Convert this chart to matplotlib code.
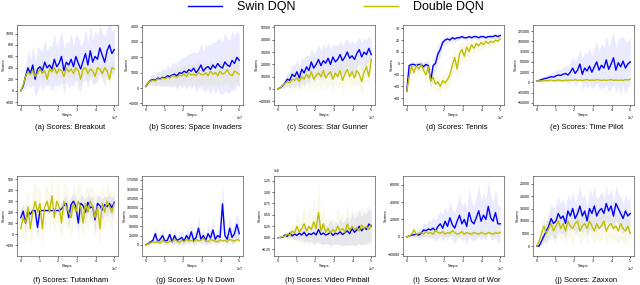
import numpy as np
import matplotlib
matplotlib.use("Agg")
import matplotlib.pyplot as plt

plt.rcParams['font.family'] = ['Liberation Sans', 'DejaVu Sans']

steps = np.linspace(0, 5e7, 40)

# (a) Breakout
breakout_swin = [0, 80, 250, 400, 300, 450, 200, 380, 420, 350, 500, 400, 450, 380, 550, 420, 480, 600, 350, 500,
                 450, 550, 420, 600, 480, 380, 520, 650, 450, 700, 500, 600, 550, 750, 620, 500, 700, 800, 650, 720]
breakout_swin_sd = [0, 60, 200, 300, 250, 350, 300, 400, 300, 350, 400, 300, 350, 400, 450, 350, 400, 450, 400, 350,
                    400, 450, 350, 400, 450, 400, 350, 450, 400, 450, 400, 450, 400, 450, 400, 450, 400, 450, 400, 400]
breakout_ddqn = [0, 100, 250, 330, 280, 350, 250, 300, 380, 300, 350, 200, 380, 330, 400, 300, 380, 350, 250, 400,
                 330, 380, 300, 400, 350, 200, 380, 400, 300, 380, 350, 250, 400, 380, 300, 400, 350, 200, 400, 380]
breakout_ddqn_sd = [0, 50, 100, 120, 150, 120, 150, 100, 130, 150, 120, 150, 100, 130, 120, 150, 100, 120, 150, 100,
                    130, 120, 150, 100, 120, 150, 100, 130, 150, 120, 100, 150, 120, 100, 150, 120, 100, 150, 120, 100]

# (b) Space Invaders
invaders_swin = [100, 350, 500, 550, 500, 650, 600, 700, 650, 800, 750, 850, 900, 800, 1000, 950, 1100, 1000, 1200, 1100,
                 1300, 1000, 1200, 1500, 1100, 1300, 1400, 1200, 1500, 1300, 1600, 1400, 1300, 1700, 1500, 1400, 1800, 1600, 2000, 1800]
invaders_swin_sd = [50, 150, 300, 400, 350, 500, 450, 600, 500, 700, 600, 800, 700, 900, 800, 1000, 900, 1100, 1000, 1200,
                    1100, 1300, 1200, 1400, 1300, 1500, 1400, 1600, 1500, 1700, 1600, 1800, 1700, 1900, 1800, 1700, 1900, 1800, 1800, 1700]
invaders_ddqn = [100, 350, 450, 500, 450, 600, 550, 650, 600, 700, 650, 800, 750, 700, 850, 800, 900, 750, 1000, 850,
                 900, 800, 1000, 900, 850, 1000, 800, 1100, 900, 1000, 800, 1100, 900, 1000, 1200, 900, 800, 1100, 1000, 900]
invaders_ddqn_sd = [50, 150, 250, 300, 350, 400, 350, 450, 400, 500, 450, 550, 500, 600, 550, 650, 600, 700, 650, 700,
                    650, 700, 750, 700, 650, 750, 700, 800, 750, 700, 800, 750, 800, 700, 800, 750, 800, 750, 700, 800]

# (c) Star Gunner
gunner_swin = [0, 1000, 2500, 5000, 8000, 7000, 12000, 10000, 14000, 9000, 16000, 13000, 18000, 15000, 22000, 17000, 20000, 24000, 19000, 23000,
               21000, 25000, 20000, 26000, 22000, 24000, 28000, 23000, 26000, 30000, 25000, 27000, 24000, 29000, 32000, 26000, 30000, 28000, 33000, 28000]
gunner_swin_sd = [0, 1000, 2000, 4000, 6000, 7000, 8000, 9000, 10000, 9000, 10000, 11000, 10000, 12000, 11000, 12000, 11000, 13000, 12000, 13000,
                  12000, 13000, 12000, 11000, 13000, 12000, 11000, 12000, 13000, 11000, 12000, 13000, 12000, 11000, 10000, 12000, 11000, 12000, 10000, 11000]
gunner_ddqn = [0, 1000, 3000, 4500, 6000, 5000, 8000, 7000, 9000, 6000, 10000, 8000, 12000, 9000, 14000, 8000, 11000, 13000, 10000, 15000,
               9000, 12000, 14000, 8000, 13000, 10000, 15000, 7000, 12000, 16000, 10000, 14000, 9000, 15000, 12000, 6000, 14000, 18000, 10000, 24000]
gunner_ddqn_sd = [0, 800, 2000, 3000, 4000, 5000, 6000, 7000, 8000, 7000, 8000, 9000, 8000, 10000, 9000, 10000, 9000, 10000, 11000, 10000,
                  9000, 10000, 11000, 10000, 9000, 10000, 11000, 10000, 9000, 10000, 11000, 10000, 9000, 10000, 11000, 10000, 9000, 10000, 9000, 8000]

# (d) Tennis
tennis_swin = [-24, -2, -1, -1, -2, -1, -1, -3, -1, -2, -15, -2, 0, 8, 12, 18, 20, 21, 20, 22,
               21, 22, 22, 23, 22, 22, 23, 22, 23, 23, 22, 23, 23, 22, 23, 23, 23, 24, 23, 24]
tennis_swin_sd = [4, 3, 2, 2, 3, 2, 3, 4, 3, 5, 8, 6, 7, 8, 6, 4, 3, 3, 3, 2,
                  2, 2, 2, 2, 2, 2, 2, 2, 2, 2, 2, 2, 2, 2, 2, 2, 2, 2, 2, 2]
tennis_ddqn = [-24, -12, -2, -8, -2, -5, -1, -6, -10, -3, -15, -12, -18, -16, -20, -15, -17, -14, -10, -2,
               5, -5, 8, 12, 6, 14, 10, 16, 13, 17, 15, 18, 16, 19, 17, 19, 18, 20, 19, 21]
tennis_ddqn_sd = [5, 6, 5, 6, 5, 6, 5, 6, 7, 6, 7, 6, 7, 6, 7, 6, 7, 8, 9, 10,
                  9, 10, 9, 8, 9, 7, 8, 6, 7, 5, 6, 5, 5, 4, 5, 4, 4, 3, 4, 3]

# (e) Time Pilot
pilot_swin = [3000, 5000, 7000, 9000, 10000, 12000, 14000, 13000, 16000, 18000, 17000, 20000, 22000, 18000, 25000, 35000, 22000, 30000, 45000, 20000,
              35000, 28000, 40000, 25000, 38000, 50000, 30000, 42000, 35000, 55000, 32000, 45000, 60000, 30000, 48000, 38000, 52000, 35000, 45000, 50000]
pilot_swin_sd = [1000, 3000, 5000, 6000, 8000, 9000, 10000, 12000, 14000, 15000, 16000, 18000, 20000, 22000, 25000, 28000, 30000, 32000, 35000, 38000,
                 40000, 42000, 45000, 40000, 48000, 50000, 45000, 55000, 50000, 60000, 55000, 60000, 65000, 55000, 60000, 70000, 60000, 65000, 55000, 60000]
pilot_ddqn = [3000, 4000, 3000, 5000, 4000, 5000, 6000, 4000, 5000, 6000, 5000, 4000, 6000, 5000, 6000, 5000, 7000, 5000, 6000, 5000,
              6000, 7000, 5000, 6000, 5000, 7000, 6000, 5000, 6000, 5000, 6000, 7000, 5000, 6000, 5000, 6000, 5000, 7000, 6000, 8000]
pilot_ddqn_sd = [1000, 2000, 2000, 3000, 2000, 3000, 2000, 3000, 2000, 3000, 2000, 3000, 2000, 3000, 2000, 3000, 2000, 3000, 2000, 3000,
                 2000, 3000, 2000, 3000, 2000, 3000, 2000, 3000, 2000, 3000, 2000, 3000, 2000, 3000, 2000, 3000, 2000, 3000, 2000, 3000]

# (f) Tutankham
tut_swin = [150, 210, 100, 215, 180, 215, 215, 60, 215, 215, 215, 215, 215, 215, 215, 215, 215, 230, 260, 280,
            150, 270, 300, 250, 100, 280, 260, 200, 290, 240, 250, 130, 280, 260, 220, 270, 250, 280, 240, 290]
tut_swin_sd = [80, 60, 90, 20, 60, 10, 10, 120, 10, 10, 10, 10, 10, 10, 10, 10, 20, 60, 80, 70,
               100, 80, 70, 90, 120, 80, 90, 100, 80, 90, 100, 120, 80, 90, 100, 80, 90, 80, 90, 80]
tut_ddqn = [50, 150, 100, 250, 50, 200, 300, 200, 280, 50, 250, 300, 200, 350, 150, 300, 250, 100, 300, 250,
            200, 150, 280, 200, 300, 250, 100, 280, 200, 300, 250, 150, 250, 50, 280, 200, 300, 250, 200, 280]
tut_ddqn_sd = [100, 150, 200, 180, 150, 200, 180, 200, 150, 180, 200, 150, 180, 200, 150, 180, 200, 150, 180, 200,
               150, 180, 200, 150, 180, 200, 150, 180, 200, 150, 180, 200, 150, 180, 200, 150, 180, 150, 180, 150]

# (g) Up N Down
updown_swin = [0, 3000, 8000, 12000, 30000, 8000, 15000, 25000, 10000, 12000, 28000, 8000, 25000, 12000, 15000, 20000, 10000, 25000, 15000, 35000,
               12000, 20000, 45000, 15000, 25000, 12000, 30000, 18000, 40000, 15000, 25000, 20000, 110000, 25000, 15000, 45000, 20000, 30000, 55000, 30000]
updown_swin_sd = [0, 2000, 5000, 8000, 20000, 8000, 12000, 20000, 10000, 12000, 20000, 10000, 20000, 12000, 15000, 18000, 12000, 20000, 15000, 25000,
                  15000, 18000, 30000, 15000, 20000, 15000, 25000, 18000, 30000, 15000, 20000, 18000, 60000, 20000, 15000, 30000, 20000, 25000, 35000, 25000]
updown_ddqn = [0, 2000, 5000, 8000, 6000, 10000, 5000, 12000, 8000, 6000, 10000, 8000, 15000, 10000, 6000, 12000, 8000, 15000, 10000, 12000,
               8000, 15000, 10000, 12000, 18000, 10000, 8000, 15000, 12000, 10000, 8000, 14000, 10000, 12000, 8000, 15000, 12000, 10000, 14000, 12000]
updown_ddqn_sd = [0, 2000, 4000, 6000, 5000, 7000, 5000, 8000, 6000, 5000, 7000, 6000, 9000, 7000, 5000, 8000, 6000, 9000, 7000, 8000,
                  6000, 9000, 7000, 8000, 10000, 7000, 6000, 9000, 8000, 7000, 6000, 9000, 7000, 8000, 6000, 9000, 8000, 7000, 9000, 8000]

# (h) Video Pinball
pinball_swin = [0, 5000, 10000, 60000, 30000, 100000, 40000, 80000, 50000, 100000, 60000, 120000, 40000, 90000, 70000, 110000, 60000, 180000, 70000, 100000,
                60000, 80000, 120000, 50000, 100000, 80000, 130000, 70000, 110000, 150000, 90000, 200000, 120000, 170000, 250000, 150000, 220000, 180000, 300000, 250000]
pinball_swin_sd = [0, 5000, 10000, 50000, 40000, 100000, 60000, 120000, 80000, 150000, 100000, 200000, 120000, 180000, 150000, 250000, 150000, 300000, 200000, 250000,
                   180000, 220000, 300000, 200000, 250000, 220000, 300000, 250000, 280000, 320000, 250000, 350000, 300000, 320000, 380000, 300000, 350000, 320000, 400000, 350000]
pinball_ddqn = [0, 5000, 20000, 40000, 80000, 50000, 150000, 100000, 250000, 120000, 200000, 300000, 150000, 250000, 180000, 350000, 200000, 550000, 150000, 300000,
                120000, 200000, 100000, 180000, 120000, 250000, 150000, 200000, 120000, 300000, 150000, 250000, 180000, 220000, 150000, 280000, 200000, 250000, 180000, 280000]
pinball_ddqn_sd = [0, 5000, 20000, 50000, 100000, 80000, 200000, 150000, 350000, 200000, 300000, 450000, 250000, 400000, 300000, 500000, 350000, 650000, 300000, 450000,
                   250000, 350000, 250000, 300000, 250000, 400000, 300000, 350000, 250000, 450000, 300000, 400000, 350000, 400000, 300000, 450000, 350000, 400000, 350000, 400000]

# (i) Wizard of Wor
wizard_swin = [0, 1000, 2000, 2500, 3000, 2000, 4000, 8000, 7000, 9000, 8000, 10000, 7000, 12000, 15000, 10000, 18000, 12000, 22000, 14000,
               10000, 18000, 25000, 15000, 20000, 12000, 28000, 18000, 15000, 22000, 30000, 18000, 25000, 20000, 35000, 22000, 18000, 28000, 15000, 15000]
wizard_swin_sd = [0, 1000, 2000, 3000, 4000, 5000, 6000, 8000, 8000, 10000, 10000, 12000, 12000, 14000, 15000, 15000, 18000, 16000, 20000, 18000,
                  18000, 20000, 25000, 20000, 22000, 20000, 28000, 22000, 20000, 24000, 30000, 22000, 26000, 24000, 30000, 25000, 22000, 28000, 22000, 20000]
wizard_ddqn = [0, 1000, 3000, 8000, 3000, 4000, 5000, 3000, 6000, 4000, 5000, 3000, 8000, 5000, 4000, 6000, 3000, 5000, 4000, 7000,
               5000, 3000, 4000, 6000, 3000, 5000, 4000, 3000, 5000, 4000, 3000, 5000, 4000, 3000, 5000, 4000, 3000, 5000, 4000, 5000]
wizard_ddqn_sd = [0, 1000, 3000, 6000, 3000, 4000, 4000, 3000, 5000, 4000, 4000, 3000, 5000, 4000, 3000, 4000, 3000, 4000, 3000, 5000,
                  4000, 3000, 4000, 5000, 3000, 4000, 3000, 3000, 4000, 3000, 3000, 4000, 3000, 3000, 4000, 3000, 3000, 4000, 3000, 4000]

# (j) Zaxxon
zaxxon_swin = [0, 0, 2000, 4000, 6000, 8000, 11000, 9000, 10000, 13000, 11000, 12000, 9000, 14000, 12000, 15000, 11000, 13000, 16000, 12000,
               14000, 10000, 15000, 13000, 16000, 12000, 14000, 15000, 13000, 17000, 14000, 16000, 12000, 17000, 15000, 13000, 11000, 14000, 12000, 13000]
zaxxon_swin_sd = [0, 500, 2000, 3000, 4000, 5000, 6000, 6000, 7000, 7000, 6000, 7000, 6000, 7000, 6000, 7000, 6000, 7000, 8000, 7000,
                  7000, 6000, 8000, 7000, 8000, 7000, 6000, 7000, 6000, 7000, 6000, 7000, 6000, 7000, 6000, 7000, 6000, 7000, 6000, 7000]
zaxxon_ddqn = [0, 2000, 5000, 8000, 5000, 7000, 9000, 6000, 8000, 10000, 7000, 9000, 6000, 10000, 8000, 7000, 9000, 10000, 6000, 8000,
               9000, 7000, 10000, 8000, 6000, 9000, 7000, 8000, 10000, 6000, 8000, 9000, 7000, 8000, 6000, 9000, 7000, 6000, 8000, 5000]
zaxxon_ddqn_sd = [0, 2000, 4000, 5000, 5000, 5000, 6000, 5000, 6000, 6000, 5000, 6000, 5000, 6000, 5000, 6000, 5000, 6000, 5000, 6000,
                  5000, 6000, 5000, 6000, 5000, 6000, 5000, 6000, 5000, 6000, 5000, 6000, 5000, 6000, 5000, 6000, 5000, 6000, 5000, 5000]

captions = ["(a) Scores: Breakout", "(b) Scores: Space Invaders", "(c) Scores: Star Gunner",
            "(d) Scores: Tennis", "(e) Scores: Time Pilot", "(f) Scores: Tutankham",
            "(g) Scores: Up N Down", "(h) Scores: Video Pinball", "(i)  Scores: Wizard of Wor",
            "(j) Scores: Zaxxon"]

panels = [
    (breakout_swin, breakout_swin_sd, breakout_ddqn, breakout_ddqn_sd, (-250, 1150), np.arange(-200, 1001, 200)),
    (invaders_swin, invaders_swin_sd, invaders_ddqn, invaders_ddqn_sd, (-1100, 4100), np.arange(-1000, 4001, 1000)),
    (gunner_swin, gunner_swin_sd, gunner_ddqn, gunner_ddqn_sd, (-13000, 52000), np.arange(-10000, 50001, 10000)),
    (tennis_swin, tennis_swin_sd, tennis_ddqn, tennis_ddqn_sd, (-36, 33), np.arange(-30, 31, 10)),
    (pilot_swin, pilot_swin_sd, pilot_ddqn, pilot_ddqn_sd, (-55000, 140000), np.arange(-50000, 125001, 25000)),
    (tut_swin, tut_swin_sd, tut_ddqn, tut_ddqn_sd, (-200, 530), np.arange(-100, 501, 100)),
    (updown_swin, updown_swin_sd, updown_ddqn, updown_ddqn_sd, (-30000, 185000), np.arange(0, 175001, 25000)),
    (pinball_swin, pinball_swin_sd, pinball_ddqn, pinball_ddqn_sd, (-400000, 1350000), np.arange(-250000, 1250001, 250000)),
    (wizard_swin, wizard_swin_sd, wizard_ddqn, wizard_ddqn_sd, (-22000, 70000), np.arange(-20000, 60001, 20000)),
    (zaxxon_swin, zaxxon_swin_sd, zaxxon_ddqn, zaxxon_ddqn_sd, (-4000, 28000), np.arange(0, 25001, 5000)),
]

W, H = 640, 285
fig = plt.figure(figsize=(W / 100, H / 100), dpi=100)

lefts = [17, 142, 274, 403, 533]
tops = [25, 176]
aw, ah = 101, 80
caption_y = [127, 280]

blue = '#0000ff'
yellow = '#bfbf00'

for i, (sw, sw_sd, dd, dd_sd, ylim, yt) in enumerate(panels):
    r, c = divmod(i, 5)
    ax = fig.add_axes([lefts[c] / W, 1 - (tops[r] + ah) / H, aw / W, ah / H])
    sw = np.array(sw, float); sw_sd = np.array(sw_sd, float)
    dd = np.array(dd, float); dd_sd = np.array(dd_sd, float)
    ax.fill_between(steps, sw - sw_sd, sw + sw_sd, color=blue, alpha=0.08, lw=0)
    ax.fill_between(steps, dd - dd_sd, dd + dd_sd, color=yellow, alpha=0.08, lw=0)
    l1, = ax.plot(steps, sw, color=blue, lw=1.0)
    l2, = ax.plot(steps, dd, color=yellow, lw=1.0)
    ax.set_ylim(*ylim)
    ax.set_yticks(yt)
    ax.set_xlim(-0.2e7, 5.2e7)
    ax.set_xticks(np.arange(0, 5.01e7, 1e7))
    ax.tick_params(labelsize=2.6, length=1.2, width=0.4, pad=0.8)
    ax.xaxis.get_offset_text().set_fontsize(2.6)
    ax.yaxis.get_offset_text().set_fontsize(2.6)
    ax.set_xlabel("Steps", fontsize=3, labelpad=1)
    ax.set_ylabel("Scores", fontsize=3, labelpad=0.5)
    for s in ax.spines.values():
        s.set_linewidth(0.5)
        s.set_color('#555555')
    fig.text((lefts[c] + aw / 2 + 3) / W, 1 - caption_y[r] / H, captions[i],
             ha='center', va='center', fontsize=5.5)

fig.legend([l1, l2], ["Swin DQN", "Double DQN"], loc='upper center',
           bbox_to_anchor=(336 / W, 1.035), ncol=2, frameon=False, fontsize=9,
           handlelength=2.7, handletextpad=1.2, columnspacing=5.5)

fig.savefig("out.png", dpi=100)
